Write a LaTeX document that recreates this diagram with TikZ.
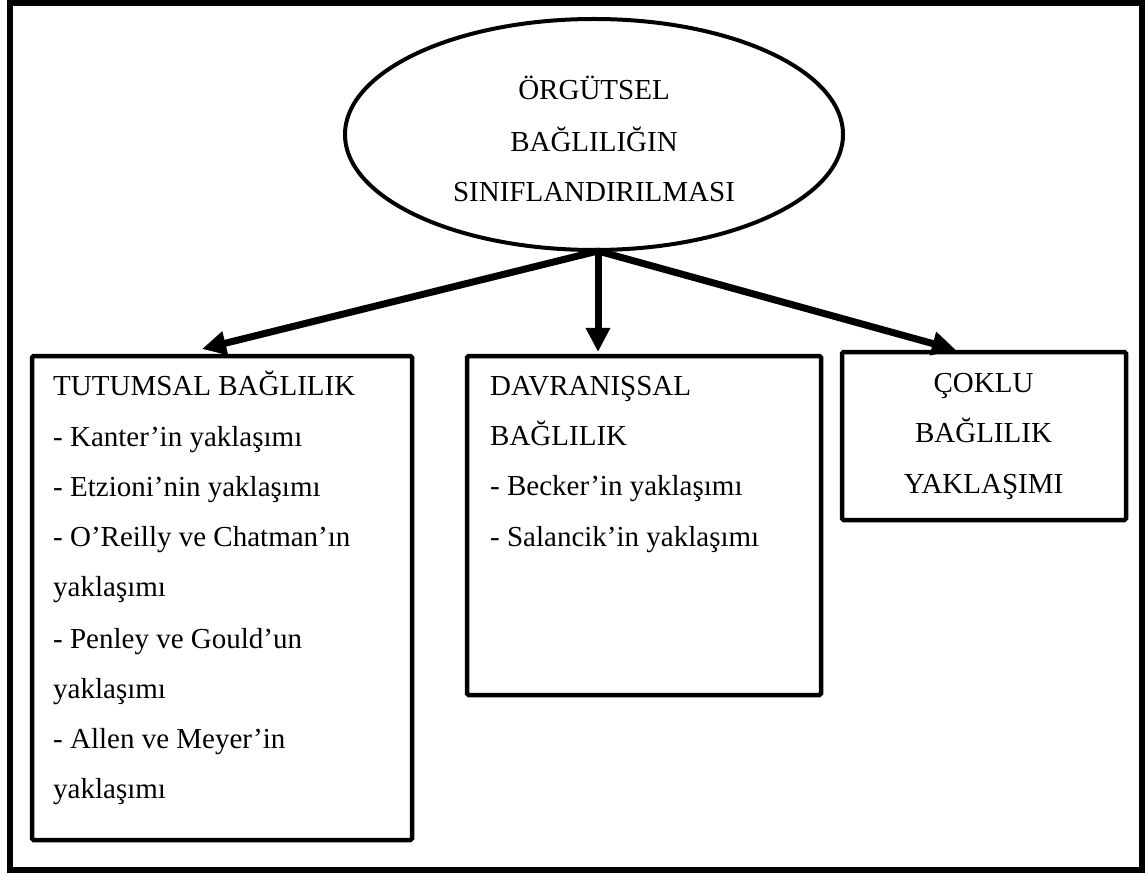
\documentclass[tikz,border=0pt]{standalone}
\usepackage{fontspec}
\setmainfont{Liberation Serif}
\usetikzlibrary{arrows.meta,shapes.geometric}
\begin{document}
\begin{tikzpicture}[x=1pt,y=-1pt,
  txt/.style={inner sep=0pt,font=\fontsize{29}{50}\selectfont},
  lt/.style={txt,anchor=base west},
  ct/.style={txt,anchor=base},
  boxnode/.style={draw,line width=4.5pt,rounded corners=1.5pt,inner sep=0pt},
  conn/.style={line width=7pt,-{Triangle[length=24pt,width=23pt]}}]
\useasboundingbox (0,0) rectangle (1145,874);
% outer frame
\draw[line width=6pt] (10,3) rectangle (1142,870);
% ellipse
\node[ellipse,draw,line width=4pt,minimum width=498pt,minimum height=231pt,inner sep=0pt] (top) at (594,134.5) {};
\node[ct] (e1) at (594,100) {ÖRGÜTSEL};
\node[ct] (e2) at (594,151.5) {BAĞLILIĞIN};
\node[ct] (e3) at (594,202) {SINIFLANDIRILMASI};
% boxes
\node[boxnode,minimum width=380pt,minimum height=484pt] (lbox) at (222,598) {};
\node[boxnode,minimum width=354pt,minimum height=339pt] (mbox) at (644,525.5) {};
\node[boxnode,minimum width=284pt,minimum height=168pt] (rbox) at (984,436) {};
% left box text
\node[lt] (l1) at (53,395) {TUTUMSAL BAĞLILIK};
\node[lt] (l2) at (53,446.7) {- Kanter’in yaklaşımı};
\node[lt] (l3) at (53,496.7) {- Etzioni’nin yaklaşımı};
\node[lt] (l4) at (53,546.7) {- O’Reilly ve Chatman’ın};
\node[lt] (l5) at (53,596.7) {yaklaşımı};
\node[lt] (l6) at (53,648.3) {- Penley ve Gould’un};
\node[lt] (l7) at (53,698.3) {yaklaşımı};
\node[lt] (l8) at (53,748.3) {- Allen ve Meyer’in};
\node[lt] (l9) at (53,798.3) {yaklaşımı};
% middle box text
\node[lt] (m1) at (490,395) {DAVRANIŞSAL};
\node[lt] (m2) at (490,445) {BAĞLILIK};
\node[lt] (m3) at (490,495.7) {- Becker’in yaklaşımı};
\node[lt] (m4) at (490,546.7) {- Salancik’in yaklaşımı};
% right box text
\node[ct] (r1) at (983.5,392) {ÇOKLU};
\node[ct] (r2) at (983.5,442) {BAĞLILIK};
\node[ct] (r3) at (983.5,493) {YAKLAŞIMI};
% connectors
\coordinate (hub) at (598,251);
\coordinate (tipL) at (202,349);
\coordinate (tipM) at (598,352);
\coordinate (tipR) at (956,350);
\draw[conn] (hub) -- (tipL);
\draw[conn] (hub) -- (tipM);
\draw[conn] (hub) -- (tipR);
\end{tikzpicture}
\end{document}
